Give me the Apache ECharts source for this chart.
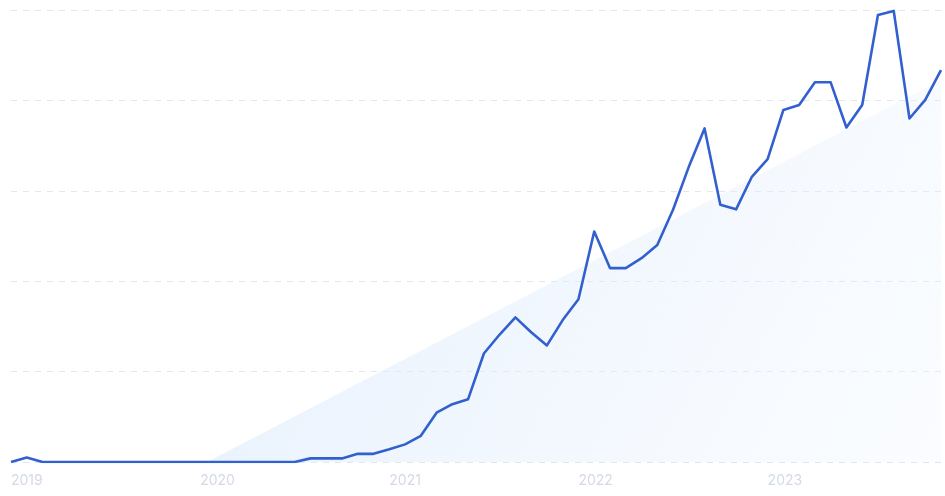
<!DOCTYPE html>
<html>
<head>
<meta charset="utf-8">
<script src="https://cdn.jsdelivr.net/npm/echarts@6/dist/echarts.min.js"></script>
<style>html,body{margin:0;padding:0;background:#fff}#c{width:945px;height:496px}</style>
</head>
<body>
<div id="c"></div>
<script>
const years = ['2019', '2020', '2021', '2022', '2023'];
const months = ['01','02','03','04','05','06','07','08','09','10','11','12'];
const categories = [];
years.forEach(y => months.forEach(m => categories.push(y + '-' + m)));

const values = [
  0, 1, 0, 0, 0, 0, 0, 0, 0, 0, 0, 0,
  0, 0, 0, 0, 0, 0, 0, 0.8, 0.8, 0.8, 1.8, 1.8,
  2.8, 3.9, 5.8, 10.9, 12.8, 13.9, 24.0, 28.2, 32.0, 28.7, 25.8, 31.4,
  36.0, 51.0, 42.9, 42.9, 45.1, 48.0, 55.8, 65.3, 73.8, 56.9, 55.9, 63.1,
  67.0, 77.9, 79.0, 84.0, 84.0, 74.0, 79.0, 98.9, 99.8, 76.0, 80.1, 86.7
];

// trend band endpoints: [category index, value]
const trendStart = [12, -0.8];
const trendEnd = [59, 84.5];

const chart = echarts.init(document.getElementById('c'), null, {renderer: 'canvas'});
chart.setOption({
  animation: false,
  grid: {left: 11, right: 4, top: 10, bottom: 34},
  xAxis: {
    type: 'category',
    data: categories,
    boundaryGap: false,
    axisLine: {show: false},
    axisTick: {show: false},
    splitLine: {show: false},
    axisLabel: {
      interval: (i) => i % 12 === 0,
      formatter: (v) => v.slice(0, 4),
      align: 'left',
      margin: 12,
      color: '#d3d9e6',
      fontSize: 14,
      fontFamily: 'Inter'
    }
  },
  yAxis: {
    type: 'value',
    min: 0,
    max: 100,
    interval: 20,
    axisLine: {show: false},
    axisTick: {show: false},
    axisLabel: {show: false},
    splitLine: {lineStyle: {color: '#e3e6eb', type: [6, 6], width: 1}}
  },
  series: [
    {
      type: 'line',
      data: [trendStart, trendEnd],
      symbol: 'none',
      clip: true,
      lineStyle: {width: 0},
      areaStyle: {
        origin: 'start',
        color: new echarts.graphic.LinearGradient(0, 0, 1, 1, [
          {offset: 0, color: 'rgba(214,231,252,0.95)'},
          {offset: 1, color: 'rgba(238,245,254,0.4)'}
        ])
      },
      z: 1
    },
    {
      type: 'line',
      data: values,
      symbol: 'none',
      lineStyle: {color: '#3360cf', width: 2.6, join: 'round'},
      z: 3
    }
  ]
});
</script>
</body>
</html>
